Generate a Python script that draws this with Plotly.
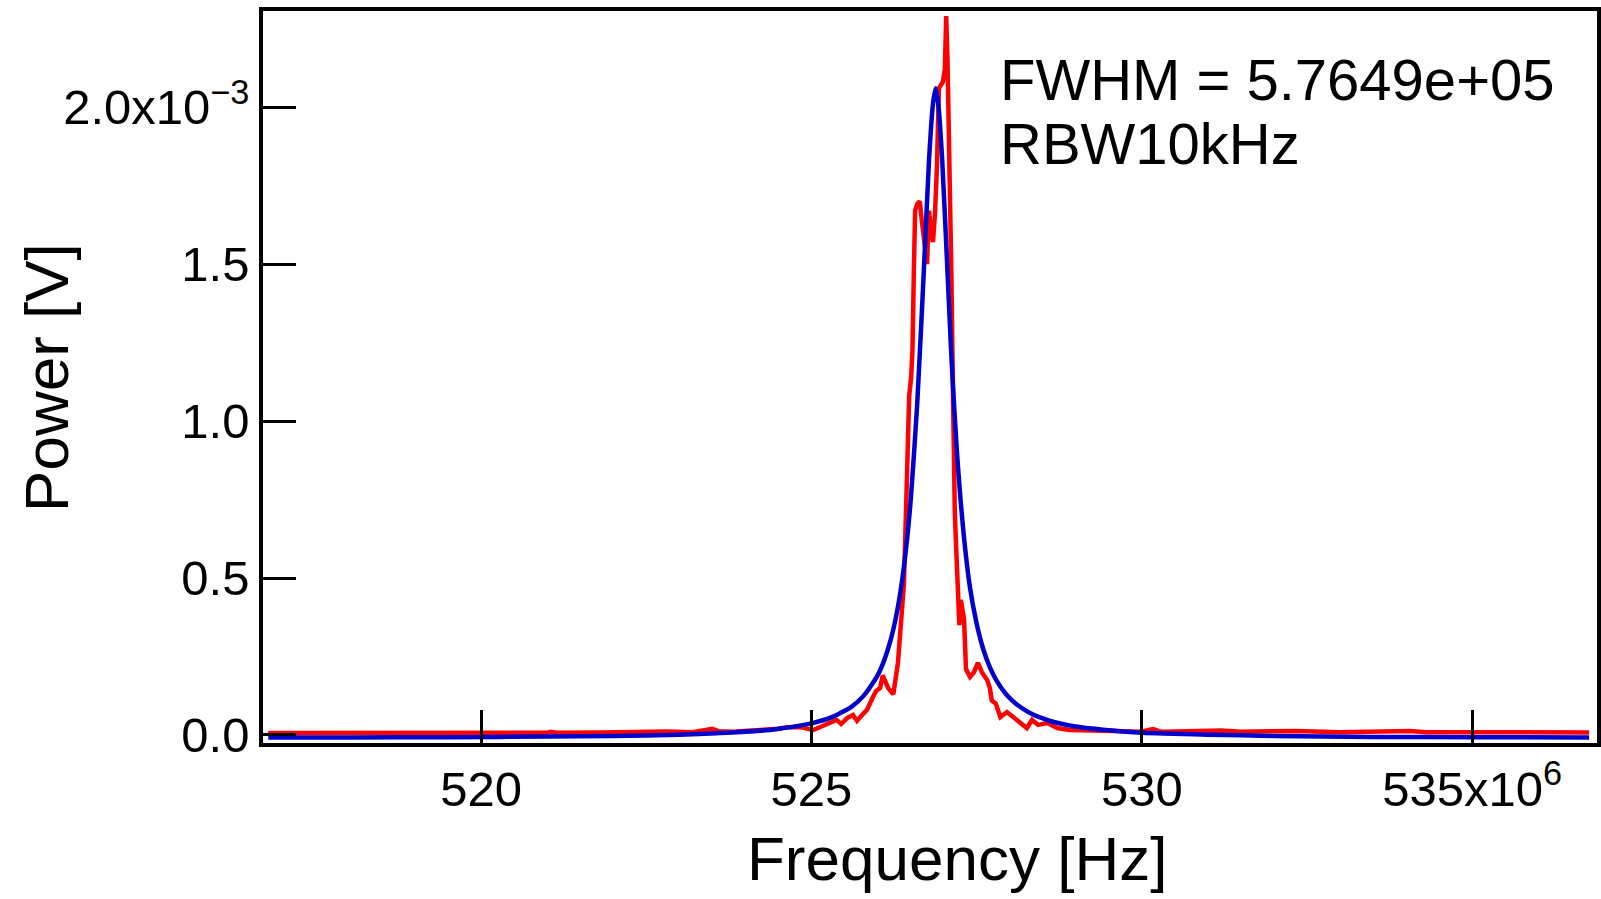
import plotly.graph_objects as go

# ---- data (frequency in MHz, power in units of 1e-3 V) ----
red_freq_mhz = [
    516.78, 518.0, 519.5, 520.5, 521.0, 521.05, 521.15, 521.8, 522.3, 522.5,
    522.8, 523.2, 523.5, 523.6, 523.81, 524.1, 524.33, 524.5, 524.63, 524.83,
    525.03, 525.13, 525.28, 525.38, 525.45, 525.54, 525.63, 525.69, 525.74, 525.84,
    525.93, 525.98, 526.04, 526.08, 526.16, 526.24, 526.31, 526.37, 526.40, 526.43,
    526.45, 526.48, 526.51, 526.53, 526.55, 526.57, 526.60, 526.64, 526.67, 526.70,
    526.75, 526.78, 526.81, 526.84, 526.87, 526.90, 526.93, 526.96, 526.99, 527.02,
    527.04, 527.06, 527.08, 527.10, 527.12, 527.14, 527.17, 527.20, 527.22, 527.24,
    527.26, 527.28, 527.31, 527.34, 527.40, 527.46, 527.52, 527.58, 527.66, 527.70,
    527.73, 527.79, 527.86, 527.96, 528.05, 528.16, 528.26, 528.34, 528.43, 528.57,
    528.72, 528.91, 529.17, 529.57, 529.97, 530.17, 530.3, 530.8, 531.2, 531.5,
    532.0, 532.35, 533.0, 534.06, 534.3, 535.0, 536.0, 536.77,
]
red_power_mv = [
    0.006, 0.006, 0.006, 0.006, 0.007, 0.010, 0.007, 0.008, 0.010, 0.008,
    0.011, 0.009, 0.020, 0.012, 0.010, 0.014, 0.016, 0.020, 0.025, 0.025,
    0.016, 0.025, 0.038, 0.048, 0.035, 0.054, 0.064, 0.045, 0.057, 0.080,
    0.120, 0.140, 0.150, 0.190, 0.150, 0.130, 0.230, 0.390, 0.480, 0.700,
    0.870, 1.080, 1.140, 1.230, 1.470, 1.670, 1.690, 1.700, 1.640, 1.580,
    1.500, 1.670, 1.600, 1.570, 1.660, 1.810, 2.060, 2.070, 2.080, 2.120,
    2.290, 2.150, 1.950, 1.810, 1.450, 1.130, 0.710, 0.550, 0.410, 0.350,
    0.430, 0.410, 0.370, 0.210, 0.185, 0.200, 0.230, 0.200, 0.175, 0.150,
    0.110, 0.100, 0.057, 0.073, 0.057, 0.038, 0.022, 0.048, 0.032, 0.038,
    0.022, 0.016, 0.016, 0.013, 0.010, 0.019, 0.010, 0.012, 0.014, 0.010,
    0.013, 0.013, 0.009, 0.013, 0.009, 0.008, 0.008, 0.008,
]

blue_freq_mhz = [
    516.78, 518.0, 519.5, 521.0, 522.0, 523.0, 523.8, 524.4, 524.8, 525.0,
    525.3, 525.6, 525.8, 526.0, 526.1, 526.2, 526.3, 526.4, 526.5, 526.6,
    526.7, 526.78, 526.84, 526.88, 526.92, 526.98, 527.05, 527.12, 527.2, 527.3,
    527.4, 527.5, 527.6, 527.7, 527.8, 527.95, 528.1, 528.3, 528.6, 529.0,
    529.5, 530.0, 531.0, 532.0, 533.5, 535.0, 536.77,
]
blue_power_mv = [
    -0.008, -0.008, -0.007, -0.005, -0.003, 0.001, 0.008, 0.017, 0.029, 0.037,
    0.056, 0.089, 0.127, 0.189, 0.237, 0.303, 0.397, 0.535, 0.740, 1.050,
    1.470, 1.830, 2.010, 2.060, 2.010, 1.830, 1.520, 1.200, 0.910, 0.650,
    0.470, 0.356, 0.274, 0.216, 0.174, 0.129, 0.099, 0.071, 0.046, 0.027,
    0.015, 0.007, 0.001, -0.003, -0.006, -0.007, -0.008,
]

x_tick_mhz = [520, 525, 530, 535]
x_tick_text = ["520", "525", "530", "535x10<sup>6</sup>"]
y_tick_mv = [0.0, 0.5, 1.0, 1.5, 2.0]
y_tick_text = ["0.0", "0.5", "1.0", "1.5", "2.0x10<sup>\u22123</sup>"]

x_title = "Frequency [Hz]"
y_title = "Power [V]"
annotation_lines = ["FWHM = 5.7649e+05", "RBW10kHz"]

# ---- convert to SI ----
red_x = [f * 1e6 for f in red_freq_mhz]
red_y = [v * 1e-3 for v in red_power_mv]
blue_x = [f * 1e6 for f in blue_freq_mhz]
blue_y = [v * 1e-3 for v in blue_power_mv]

FONT = "Liberation Sans, Arial, sans-serif"

fig = go.Figure()
fig.add_trace(go.Scatter(x=red_x, y=red_y, mode="lines",
                         line=dict(color="#ff0000", width=4.5), showlegend=False))
fig.add_trace(go.Scatter(x=blue_x, y=blue_y, mode="lines",
                         line=dict(color="#0000cc", width=4.5, shape="spline", smoothing=0.6),
                         showlegend=False))

axis_common = dict(
    showgrid=False, zeroline=False, showline=True, linecolor="black", linewidth=3.5,
    mirror=True, ticks="inside", ticklen=33, tickwidth=3, tickcolor="black",
)

fig.update_xaxes(
    range=[516.70e6, 536.89e6],
    tickvals=[t * 1e6 for t in x_tick_mhz], ticktext=x_tick_text,
    tickfont=dict(family=FONT, size=49, color="black"),
    **axis_common,
)
fig.update_yaxes(
    range=[-0.0255e-3, 2.306e-3],
    tickvals=[t * 1e-3 for t in y_tick_mv], ticktext=y_tick_text,
    tickfont=dict(family=FONT, size=49, color="black"),
    **axis_common,
)

# axis titles placed as text at the reference positions
fig.add_annotation(
    text=x_title, xref="paper", yref="paper", x=0.520, y=-0.158,
    xanchor="center", yanchor="middle", showarrow=False,
    font=dict(family=FONT, size=62, color="black"),
)
fig.add_annotation(
    text=y_title, xref="paper", yref="paper", x=-0.1627, y=0.5, textangle=-90,
    xanchor="center", yanchor="middle", showarrow=False,
    font=dict(family=FONT, size=62, color="black"),
)

for line_text, ypos in zip(annotation_lines, [0.954, 0.866]):
    fig.add_annotation(
        text=line_text, xref="paper", yref="paper", x=0.551, y=ypos,
        xanchor="left", yanchor="top", align="left", showarrow=False,
        font=dict(family=FONT, size=58, color="black"),
    )

fig.update_layout(
    width=1601, height=899,
    margin=dict(l=263, r=4, t=11, b=156, autoexpand=False),
    plot_bgcolor="white", paper_bgcolor="white",
)

fig.write_html(
    "out.html",
    config={"displayModeBar": False},
    post_script="document.body.style.margin='0px';document.body.style.overflow='hidden';",
)
